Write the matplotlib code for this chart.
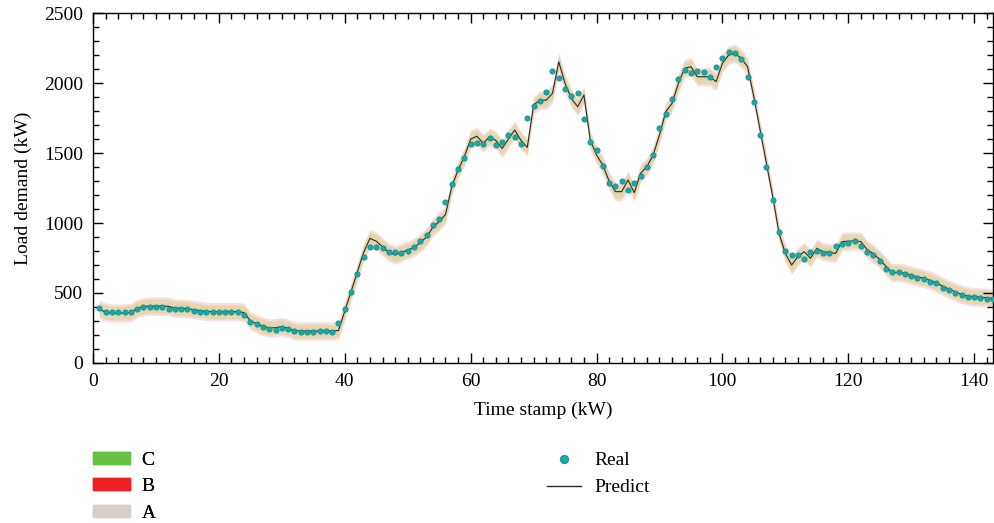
"""
Load demand: real vs predicted, with A/B/C bands
"""

import matplotlib.pyplot as plt
import numpy as np
from matplotlib.lines import Line2D
from matplotlib.patches import Patch
from matplotlib.ticker import MultipleLocator

# real load (kW), one value per time stamp 1..143
real = [390, 362, 362, 362, 364, 364, 383, 398, 402, 402,
        402, 388, 383, 383, 383, 374, 367, 364, 364, 364,
        364, 364, 364, 345, 293, 276, 260, 243, 236, 252,
        243, 228, 222, 222, 224, 226, 226, 224, 283, 385,
        510, 634, 760, 826, 826, 824, 793, 793, 788, 798,
        826, 874, 917, 988, 1031, 1148, 1279, 1386, 1462, 1564,
        1574, 1564, 1607, 1557, 1579, 1629, 1612, 1562, 1748, 1838,
        1874, 1936, 2086, 2033, 1957, 1909, 1929, 1745, 1581, 1524,
        1407, 1288, 1267, 1298, 1236, 1286, 1336, 1400, 1486, 1679,
        1781, 1883, 2028, 2093, 2071, 2088, 2081, 2045, 2112, 2176,
        2219, 2212, 2169, 2045, 1866, 1629, 1402, 1164, 936, 802,
        771, 771, 743, 795, 800, 788, 783, 836, 850, 859,
        869, 838, 795, 769, 726, 674, 650, 652, 633, 624,
        610, 602, 581, 569, 536, 521, 502, 483, 474, 474,
        467, 460, 455]

# predicted load (kW)
predict = [385, 362, 357, 357, 357, 360, 390, 402, 406, 406,
           406, 405, 392, 390, 388, 380, 375, 368, 366, 366,
           366, 366, 366, 360, 300, 280, 262, 250, 252, 260,
           248, 230, 228, 228, 228, 228, 228, 228, 232, 370,
           510, 650, 790, 890, 870, 830, 790, 771, 790, 807,
           825, 860, 900, 970, 1010, 1060, 1260, 1379, 1474, 1600,
           1620, 1570, 1615, 1590, 1533, 1600, 1664, 1590, 1540, 1843,
           1878, 1878, 1926, 2152, 1997, 1890, 1831, 1914, 1593, 1486,
           1414, 1300, 1224, 1224, 1307, 1217, 1355, 1402, 1486, 1629,
           1795, 1855, 1997, 2105, 2117, 2045, 2045, 2045, 2010, 2141,
           2200, 2212, 2176, 2117, 1900, 1664, 1426, 1188, 926, 783,
           700, 760, 795, 748, 819, 795, 790, 783, 867, 870,
           872, 867, 810, 780, 740, 690, 645, 648, 640, 628,
           615, 605, 590, 572, 548, 528, 508, 490, 478, 474,
           470, 466, 462]

# band half widths (kW)
band_c = 25
band_b = 66
band_a = 50


def main():
    plt.rcParams["font.family"] = ["Liberation Serif", "DejaVu Serif"]
    plt.rcParams["font.size"] = 14

    x = np.arange(1, len(real) + 1)
    pred = np.array(predict)

    fig = plt.figure(figsize=(9.94, 5.23), dpi=100)
    ax = fig.add_axes([0.0936, 0.306, 0.9054, 0.669])

    ax.fill_between(x, pred - band_b, pred + band_b,
                    color="#ee2027", alpha=0.15, lw=0)
    ax.fill_between(x, pred - band_a, pred + band_a,
                    color="#dfd6a8", alpha=0.8, lw=0)
    ax.fill_between(x, pred - band_c, pred + band_c,
                    color="#6abf45", alpha=0.05, lw=0)

    ax.plot(x, pred, color="#2b2b2b", lw=0.8, zorder=3)
    ax.plot(x, real, ls="none", marker="o", ms=3.8,
            mfc="#1aa7a7", mec="#138a8a", mew=0.5, zorder=4)

    ax.set_xlim(0, 143)
    ax.set_ylim(0, 2500)
    ax.xaxis.set_major_locator(MultipleLocator(20))
    ax.xaxis.set_minor_locator(MultipleLocator(2))
    ax.yaxis.set_major_locator(MultipleLocator(500))
    ax.yaxis.set_minor_locator(MultipleLocator(100))
    ax.tick_params(which="both", direction="in", top=True, right=True,
                   width=1, labelsize=14)
    ax.tick_params(which="major", length=7, pad=7)
    ax.tick_params(which="minor", length=4)
    for s in ax.spines.values():
        s.set_linewidth(1)

    ax.set_xlabel("Time stamp (kW)", fontsize=14, labelpad=9)
    ax.set_ylabel("Load demand (kW)", fontsize=14, labelpad=9)

    # legends under the plot
    left = [Patch(color="#6abf45"), Patch(color="#ee2027"), Patch(color="#d6d0c5")]
    leg1 = fig.legend(left, ["C", "B", "A"], loc="upper left",
                      bbox_to_anchor=(0.0936, 0.136), frameon=False,
                      borderpad=0, borderaxespad=0, handlelength=1.9,
                      handleheight=0.55, handletextpad=0.6, labelspacing=0.48,
                      fontsize=14)
    fig.add_artist(leg1)

    right = [Line2D([], [], ls="none", marker="o", ms=6,
                    mfc="#1aa7a7", mec="#138a8a", mew=0.6),
             Line2D([], [], color="#2b2b2b", lw=1)]
    fig.legend(right, ["Real", "Predict"], loc="upper left",
               bbox_to_anchor=(0.550, 0.136), frameon=False,
               borderpad=0, borderaxespad=0, handlelength=1.75,
               handletextpad=0.7, labelspacing=0.48, fontsize=14)

    fig.savefig("out.png", dpi=100)


if __name__ == "__main__":
    main()
